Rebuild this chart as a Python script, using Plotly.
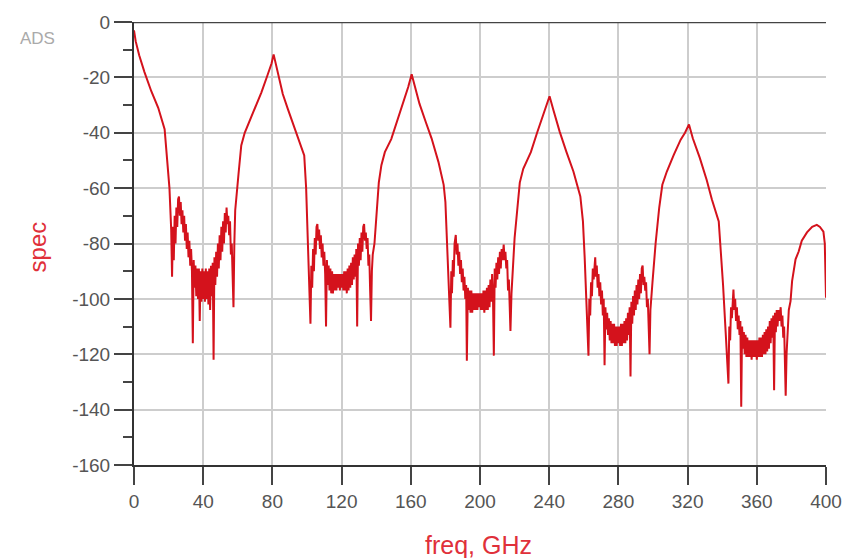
import plotly.graph_objects as go

# ---- data (freq in GHz, spec in dB) ----
f_start = [0, 1, 3, 6, 10, 14, 17.7, 19, 20.5]
s_start = [-3, -7, -12, -18, -25, -31, -38.7, -48, -60]

f_trough1 = [21.5, 22, 22.5, 23, 23.5, 24, 24.5, 25, 25.5, 26, 26.5, 27, 27.5, 28, 28.5, 29, 29.5, 30,
             30.5, 31, 31.5, 32, 32.5, 33, 33.5, 34, 34.5, 35, 35.5, 36, 36.5, 37, 37.5, 38, 38.5, 39,
             39.5, 40, 40.5, 41, 41.5, 42, 42.5, 43, 43.5, 44, 44.5, 45, 45.5, 46, 46.5, 47, 47.5, 48,
             48.5, 49, 49.5, 50, 50.5, 51, 51.5, 52, 52.5, 53, 53.5, 54, 54.5, 55, 55.5, 56, 56.5, 57,
             57.5, 58, 58.5, 60.4]
s_trough1 = [-75, -92, -74, -86, -70, -80, -67, -74, -64, -63, -70, -65, -73, -68, -76, -70, -79, -73,
             -82, -76, -85, -79, -88, -82, -90, -116, -86, -96, -88, -99, -89, -100, -89, -108, -90, -101,
             -89, -100, -90, -101, -89, -100, -90, -102, -89, -104, -88, -99, -87, -122, -85, -95, -83, -92,
             -80, -89, -77, -86, -74, -83, -72, -80, -69, -76, -67, -73, -70, -77, -72, -84, -80, -95,
             -103, -80, -68, -55]

f_lobe1 = [62, 64, 66, 70, 73.6, 77, 79.5, 80.7, 83.2, 86, 88.9, 92, 95, 98.4]
s_lobe1 = [-44.6, -40, -37, -30.5, -25.5, -19.5, -15, -11.7, -18.3, -26, -31.4, -37, -42.5, -48.2]

f_trough2 = [99.5, 100.5, 101.5, 102, 102.5, 103, 103.5, 104, 104.5, 105, 105.5, 106, 106.5, 107, 107.5,
             108, 108.5, 109, 109.5, 110, 110.5, 111, 111.5, 112, 112.5, 113, 113.5, 114, 114.5, 115,
             115.5, 116, 116.5, 117, 117.5, 118, 118.5, 119, 119.5, 120, 120.5, 121, 121.5, 122, 122.5,
             123, 123.5, 124, 124.5, 125, 125.5, 126, 126.5, 127, 127.5, 128, 128.5, 129, 129.5, 130,
             130.5, 131, 131.5, 132, 132.5, 133, 133.5, 134, 134.5, 135, 135.5, 136, 136.5, 137, 137.5,
             138, 139, 140.5, 141.5]
s_trough2 = [-60, -80, -95, -109, -88, -96, -82, -90, -78, -84, -74, -73, -79, -75, -82,
             -77, -85, -80, -88, -83, -91, -110, -86, -95, -88, -97, -89, -98, -90, -98,
             -91, -97, -91, -97, -91, -96, -91, -97, -91, -96, -91, -97, -90, -97, -90,
             -98, -89, -97, -88, -96, -87, -95, -85, -93, -84, -92, -82, -110, -80, -88,
             -78, -86, -76, -83, -74, -73, -79, -76, -82, -78, -88, -84, -97, -108, -90,
             -84, -80, -66, -58]

f_lobe2 = [143, 145, 148.7, 152, 155.4, 158.5, 160.5, 162.5, 165, 168.7, 172, 176, 179]
s_lobe2 = [-51.7, -47, -42.3, -36, -29, -23.5, -18.9, -24, -29.5, -36.2, -42, -50.6, -58.8]

f_trough3 = [180, 181, 182, 182.9, 183.4, 183.8, 184.3, 184.8, 185.3, 186, 186.5, 187, 187.5, 188, 188.5,
             189, 189.5, 190, 190.5, 191, 191.5, 192, 192.4, 193, 193.5, 194, 194.5, 195, 195.5, 196,
             196.5, 197, 197.5, 198, 198.5, 199, 199.5, 200, 200.5, 201, 201.5, 202, 202.5, 203, 203.5,
             204, 204.5, 205, 205.5, 206, 206.5, 207, 207.5, 208, 208.5, 209, 209.5, 210, 210.5, 211,
             211.5, 212, 212.5, 213, 213.7, 214.2, 214.7, 215.2, 215.7, 216.2, 216.7, 217.6, 218.2,
             218.8, 220, 221.5]
s_trough3 = [-65, -81.7, -95, -110.4, -90, -98, -86, -92, -80, -76.9, -84, -80, -88, -83, -91,
             -86, -94, -89, -97, -92, -100, -95, -122.3, -96, -104, -97, -105, -97, -105, -98,
             -104, -98, -104, -98, -104, -98, -103, -98, -104, -98, -104, -97, -105, -97, -104,
             -96, -104, -95, -103, -93, -101, -91, -99, -120.5, -89, -96, -87, -93, -85, -91,
             -83, -89, -82, -86, -80.4, -86, -83, -89, -86, -97, -93, -111.6, -98,
             -90, -78, -68]

f_lobe3 = [223, 225, 229.4, 233, 236.5, 240.2, 242.5, 246, 250, 254, 258]
s_lobe3 = [-58, -53, -47, -40, -33.5, -26.8, -32, -39.5, -47, -54, -63]

f_trough4 = [259.5, 260.5, 261.5, 262.7, 263.2, 263.7, 264.2, 264.7, 265.2, 265.7, 266.6, 267, 267.5, 268,
             268.5, 269, 269.5, 270, 270.5, 271, 271.5, 272, 272.5, 273, 273.5, 274, 274.5, 275, 275.5,
             276, 276.5, 277, 277.5, 278, 278.5, 279, 279.5, 280, 280.5, 281, 281.5, 282, 282.5, 283,
             283.5, 284, 284.5, 285, 285.5, 286, 286.5, 287, 287.5, 288, 288.5, 289, 289.5, 290, 290.5,
             291, 291.5, 292, 292.5, 293, 293.5, 294, 294.5, 295, 295.5, 296, 296.5, 297, 297.5, 298,
             298.5, 299, 299.7, 301.5, 303.6]
s_trough4 = [-72, -85, -100, -120.5, -100, -106, -94, -99, -89, -93, -85, -92, -88, -96,
             -91, -99, -94, -102, -97, -106, -100, -124, -103, -111, -105, -113, -107, -115, -108,
             -116, -109, -116, -109, -117, -110, -117, -110, -116, -110, -117, -109, -117, -109, -116,
             -108, -116, -107, -115, -105, -113, -103, -128, -101, -109, -99, -106, -97, -104, -95,
             -102, -93, -100, -91, -98, -89, -88, -95, -92, -97, -94, -103, -100, -110, -120,
             -104, -98, -94, -80, -67]

f_lobe4 = [305.4, 308, 312, 316, 318.5, 320.8, 323, 327, 331, 334, 338]
s_lobe4 = [-58.8, -54, -48, -42.5, -40, -37, -42, -49, -57, -64, -72]

f_trough5 = [339, 340.5, 342, 343.6, 344.1, 344.6, 345.1, 345.6, 346.5, 347, 347.5, 348, 348.5, 349,
             349.5, 350, 350.5, 351, 351.5, 352, 352.5, 353, 353.5, 354, 354.5, 355, 355.5, 356, 356.5,
             357, 357.5, 358, 358.5, 359, 359.5, 360, 360.5, 361, 361.5, 362, 362.5, 363, 363.5, 364,
             364.5, 365, 365.5, 366, 366.5, 367, 367.5, 368, 368.5, 369, 369.5, 370, 370.5, 371, 371.5,
             372, 372.5, 373, 373.8, 374.3, 374.8, 375.3, 375.8, 376.2, 376.7, 377.2, 377.8, 378.5, 379.5]
s_trough5 = [-80, -95, -112, -130.6, -110, -115, -103, -107, -96.6, -104, -100, -108, -103, -111,
             -106, -113, -108, -139, -110, -118, -112, -120, -113, -121, -114, -121, -115, -121, -115,
             -122, -115, -121, -115, -121, -115, -122, -115, -121, -114, -121, -114, -121, -113, -120,
             -112, -120, -111, -119, -110, -118, -108, -116, -107, -114, -106, -133, -105, -112, -104,
             -110, -104, -108, -103, -110, -106, -114, -110, -122, -135, -120, -110, -104, -100.8]

f_end = [380.4, 382.4, 384.2, 386, 389, 392, 394.7, 396.5, 398.5, 399.3, 400]
s_end = [-93.6, -85.7, -82.9, -79, -76, -74, -73.3, -74, -75.7, -80, -99.6]

x_ticks = [0, 40, 80, 120, 160, 200, 240, 280, 320, 360, 400]
y_ticks = [0, -20, -40, -60, -80, -100, -120, -140, -160]

freq = (f_start + f_trough1 + f_lobe1 + f_trough2 + f_lobe2 + f_trough3 + f_lobe3
        + f_trough4 + f_lobe4 + f_trough5 + f_end)
spec = (s_start + s_trough1 + s_lobe1 + s_trough2 + s_lobe2 + s_trough3 + s_lobe3
        + s_trough4 + s_lobe4 + s_trough5 + s_end)

fig = go.Figure()
fig.add_trace(go.Scatter(x=freq, y=spec, mode="lines",
                         line=dict(color="#d4121c", width=2), hoverinfo="skip"))

axis_font = dict(family="Liberation Sans, Arial, sans-serif", size=19, color="#555555")

fig.update_layout(
    width=854, height=558,
    margin=dict(l=134, r=17, t=19, b=93),
    paper_bgcolor="white", plot_bgcolor="white",
    showlegend=False,
    xaxis=dict(range=[0, 400], tickmode="array", tickvals=x_ticks, ticktext=[str(v) for v in x_ticks],
               ticks="outside", ticklen=18, tickwidth=1.5, tickcolor="#444444",
               showline=True, linecolor="#333333", linewidth=2,
               showgrid=True, gridcolor="#cdcdcd", gridwidth=1.5, zeroline=False,
               tickfont=axis_font),
    yaxis=dict(range=[-160, 0], tickmode="array", tickvals=y_ticks, ticktext=[str(v) for v in y_ticks],
               ticks="outside", ticklen=18, tickwidth=1.5, tickcolor="#444444",
               minor=dict(dtick=10, ticklen=9, tickwidth=1.5, tickcolor="#444444", ticks="outside", showgrid=False),
               showline=True, linecolor="#333333", linewidth=2,
               showgrid=True, gridcolor="#cdcdcd", gridwidth=1.5, zeroline=False,
               tickfont=axis_font),
    shapes=[dict(type="line", xref="paper", x0=0, x1=1, yref="y", y0=0, y1=0,
                 line=dict(color="#444444", width=2.5))],
    annotations=[
        dict(text="ADS", xref="paper", yref="paper", x=-0.139, y=0.963, showarrow=False,
             xanchor="center", yanchor="middle",
             font=dict(family="Liberation Sans, Arial, sans-serif", size=17, color="#aaaaaa")),
        dict(text="spec", xref="paper", yref="paper", x=-0.139, y=0.493, showarrow=False, textangle=-90,
             xanchor="center", yanchor="middle",
             font=dict(family="Liberation Sans, Arial, sans-serif", size=24, color="#e0303a")),
        dict(text="freq, GHz", xref="paper", yref="paper", x=0.498, y=-0.1816, showarrow=False,
             xanchor="center", yanchor="middle",
             font=dict(family="Liberation Sans, Arial, sans-serif", size=25, color="#e0303a")),
    ],
)

fig.write_html("out.html")
